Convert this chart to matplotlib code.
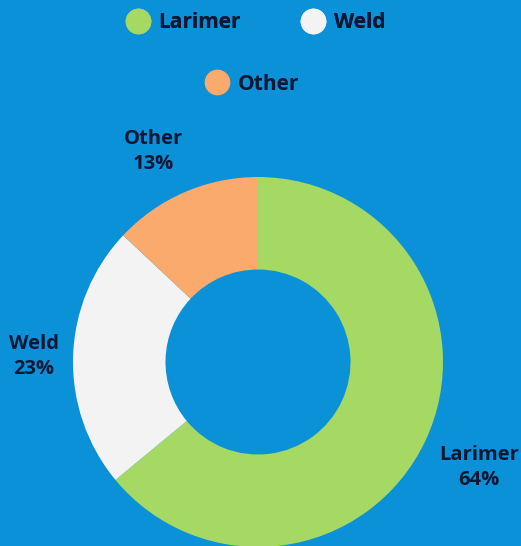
import numpy as np
import matplotlib
matplotlib.use("Agg")
import matplotlib.pyplot as plt
from matplotlib.lines import Line2D

counties = ["Larimer", "Weld", "Other"]
shares = [64, 23, 13]
colors = ["#a6d864", "#f3f3f3", "#f9aa6c"]
label_dist = [1.32, 1.22, 1.25]
label_nudge = [0.0, 0.01, -0.07]

BG = "#0a91d8"
TXT = "#0c1733"

plt.rcParams['font.family'] = ['Open Sans', 'DejaVu Sans']

fig = plt.figure(figsize=(5.21, 5.46), dpi=100, facecolor=BG)
ax = fig.add_axes([0, 0, 1, 1])
ax.set_facecolor(BG)

wedges, _ = ax.pie(shares, colors=colors, startangle=90, counterclock=False,
                   radius=1.0, wedgeprops=dict(width=0.5, linewidth=0))

# labels outside each wedge
for w, name, val, d, dx in zip(wedges, counties, shares, label_dist, label_nudge):
    ang = np.deg2rad((w.theta1 + w.theta2) / 2)
    ax.text(d * np.cos(ang) + dx, d * np.sin(ang) - 0.01, f"{name}\n{val}%",
            ha="center", va="center", fontsize=14.5, fontweight="bold",
            color=TXT, linespacing=1.35)

ax.set_aspect("equal")
ax.set_xlim(-258 / 185, 263 / 185)
ax.set_ylim(-184 / 185, 362 / 185)
ax.axis("off")

handles = [Line2D([], [], marker="o", linestyle="", markersize=17.5,
                  markerfacecolor=c, markeredgecolor=c) for c in colors]

leg_kw = dict(frameon=False, handletextpad=0.3, handlelength=1.4,
              columnspacing=2.75, labelcolor=TXT,
              prop=dict(weight="bold", size=15))
leg1 = fig.legend(handles[:2], counties[:2], ncol=2, loc="center",
                  bbox_to_anchor=(254 / 521, 1 - 23 / 546), **leg_kw)
fig.add_artist(leg1)
fig.legend(handles[2:], counties[2:], ncol=1, loc="center",
           bbox_to_anchor=(251 / 521, 1 - 84 / 546), **leg_kw)

fig.savefig("out.png", dpi=100, facecolor=BG)
